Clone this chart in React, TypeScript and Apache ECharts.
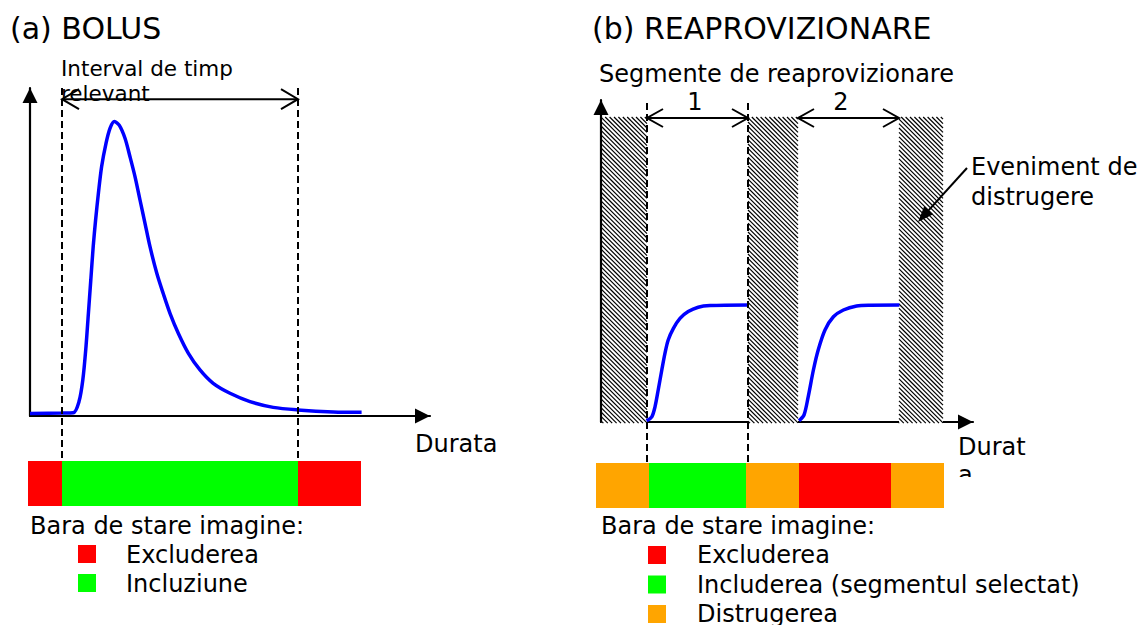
import React, { useEffect, useRef } from "react";
import * as echarts from "echarts";

const FONT = '"DejaVu Sans", Verdana, sans-serif';
const BLUE = "#0000FF";
const STATE_COLOR: Record<string, string> = { excl: "#FF0000", incl: "#00FF00", destr: "#FFA500" };

// ---------- Panel (a) BOLUS ----------
const bolusTime = [0, 8, 10.8, 12.25, 13.2, 14, 14.6, 15.2, 15.8, 16.4, 17.1, 17.9, 19, 20, 21.1, 22.3, 23.75, 25, 26.25, 27.5, 28.75, 30, 31.7, 33.3, 35, 37.1, 39.6, 42.5, 45.8, 50, 55, 60.8, 66.9, 75.8, 82.9];
const bolusValue = [0.8, 0.9, 1.0, 4.5, 11.25, 21.7, 32.1, 42.5, 52.9, 61.25, 69.6, 77.9, 85.2, 89.9, 92, 90.9, 86.8, 81, 74.8, 67.5, 60.2, 52.9, 44.6, 38.3, 32.1, 25.8, 19.6, 14.4, 10.2, 7.1, 4.5, 2.7, 1.9, 1.25, 1.15];
const intervalBounds = [8, 67];
const intervalLevel = 99;
const statusAStart = [-0.5, 8, 67];
const statusAEnd = [8, 67, 82.75];
const statusAState = ["excl", "incl", "excl"];
const legendALabels = ["Excluderea", "Incluziune"];
const legendAStates = ["excl", "incl"];

// ---------- Panel (b) REAPROVIZIONARE ----------
const hatchStart = [0, 36.75, 74.5];
const hatchEnd = [11.5, 49.25, 85.5];
const hatchTop = 76.25;
const seg1Time = [11.4, 12.7, 13.5, 14.3, 15.2, 16, 16.8, 18.1, 19.75, 21.8, 24.3, 27.25, 36.7];
const seg1Value = [0.3, 1.3, 3.8, 8, 13, 17.2, 20.5, 23.4, 25.9, 27.6, 28.7, 29.1, 29.25];
const seg2Time = [49.5, 50.75, 51.8, 53.1, 54.3, 56, 58.1, 60.6, 63.9, 67.25, 74.6];
const seg2Value = [0.3, 1.75, 6.3, 13, 18, 23, 26.3, 28, 29, 29.2, 29.25];
const segmentStart = [11.5, 49.25];
const segmentEnd = [36.75, 74.5];
const segmentLabels = ["1", "2"];
const segmentLabelX = [23.5, 60];
const segmentArrowLevel = 76;
const segmentLabelLevel = 80;
const selectedBounds = [11.5, 36.75];
const statusBStart = [-1.25, 12, 36.25, 49.5, 72.5];
const statusBEnd = [12, 36.25, 49.5, 72.5, 85.75];
const statusBState = ["destr", "incl", "destr", "excl", "destr"];
const legendBLabels = ["Excluderea", "Includerea (segmentul selectat)", "Distrugerea"];
const legendBStates = ["excl", "incl", "destr"];

const A_X_MAX = 100, A_Y_MAX = 102.5;
const B_X_MAX = 93, B_Y_MAX = 80.5;
const A_BAR_TOP = 461, B_BAR_TOP = 463;
const BODY = 24;
const TITLE = 30;

function axisPair(max: number, yMax: number, yZ = 0) {
  const line = {
    show: true,
    lineStyle: { color: "#000", width: 2.2 },
    symbol: ["none", "triangle"],
    symbolSize: [15, 15],
    symbolOffset: [0, -7.5],
  };
  return {
    x: { type: "value", min: 0, max, axisLine: line, axisTick: { show: false }, axisLabel: { show: false }, splitLine: { show: false } },
    y: { type: "value", min: 0, max: yMax, z: yZ, axisLine: line, axisTick: { show: false }, axisLabel: { show: false }, splitLine: { show: false } },
  };
}

function hiddenAxes(max: number) {
  return {
    x: { type: "value", min: 0, max, show: false },
    y: { type: "value", min: 0, max: 1, show: false },
  };
}

function statusRender(states: string[]) {
  return (params: any, api: any) => {
    const p0 = api.coord([api.value(0), 1]);
    const p1 = api.coord([api.value(1), 0]);
    return {
      type: "rect",
      shape: { x: p0[0], y: p0[1], width: p1[0] - p0[0], height: p1[1] - p0[1] },
      style: { fill: STATE_COLOR[states[params.dataIndex]] },
    };
  };
}

function dashedRender(yMax: number, bottomPx: number, topExtra = 0) {
  return (_params: any, api: any) => {
    const p = api.coord([api.value(0), yMax]);
    return {
      type: "line",
      shape: { x1: p[0], y1: p[1] + topExtra, x2: p[0], y2: bottomPx },
      style: { stroke: "#000", lineWidth: 2, lineDash: [7, 4] },
    };
  };
}

function doubleArrow(x0: number, x1: number, y: number, dx: number, dy: number) {
  const st = { stroke: "#000", lineWidth: 2, fill: null };
  return [
    { type: "line", shape: { x1: x0, y1: y, x2: x1, y2: y }, style: st },
    { type: "polyline", shape: { points: [[x0 + dx, y - dy], [x0, y], [x0 + dx, y + dy]] }, style: st },
    { type: "polyline", shape: { points: [[x1 - dx, y - dy], [x1, y], [x1 - dx, y + dy]] }, style: st },
  ];
}

function txt(text: string, x: number, y: number, size: number, align = "left") {
  return {
    type: "text",
    x,
    y,
    z: 20,
    style: {
      text,
      font: `${size}px ${FONT}`,
      fill: "#000",
      align,
      textAlign: align,
      verticalAlign: "middle",
      textVerticalAlign: "middle",
    },
  };
}

export default function App() {
  const ref = useRef<HTMLDivElement>(null);
  useEffect(() => {
    if (!ref.current) return;
    const chart = echarts.init(ref.current, null, { renderer: "svg" });
    const a = axisPair(A_X_MAX, A_Y_MAX);
    const b = axisPair(B_X_MAX, B_Y_MAX, 5);
    const aBar = hiddenAxes(A_X_MAX);
    const bBar = hiddenAxes(B_X_MAX);

    const graphic: any[] = [
      txt("(a) BOLUS", 10, 28.5, TITLE),
      txt("(b) REAPROVIZIONARE", 592, 28.5, TITLE),
      txt("Interval de timp", 61, 68.5, 21.5),
      txt("relevant", 61, 93, 21.5),
      txt("Durata", 415, 443.5, BODY),
      txt("Segmente de reaprovizionare", 599, 74, BODY),
      txt("Eveniment de", 971, 167, BODY),
      txt("distrugere", 971, 196.5, BODY),
      txt("Durat", 958, 446.5, BODY),
      txt("a", 958, 474.5, BODY),
      { type: "rect", z: 100, shape: { x: 952, y: 477, width: 40, height: 24 }, style: { fill: "#fff" } },
      { type: "line", z: 50, shape: { x1: 967, y1: 168, x2: 928.75, y2: 210.14 }, style: { stroke: "#000", lineWidth: 2 } },
      { type: "polygon", z: 50, shape: { points: [[918, 222], [933.2, 214.2], [924.3, 206.1]] }, style: { fill: "#000" } },
      txt("Bara de stare imagine:", 30, 525.5, BODY),
      txt("Bara de stare imagine:", 601, 525.5, BODY),
    ];
    legendALabels.forEach((lab, i) => {
      const top = 545 + i * 29;
      graphic.push({ type: "rect", shape: { x: 78, y: top, width: 18, height: 18 }, style: { fill: STATE_COLOR[legendAStates[i]] } });
      graphic.push(txt(lab, 126, top + 9.5, BODY));
    });
    legendBLabels.forEach((lab, i) => {
      const top = 546 + i * 29.5;
      graphic.push({ type: "rect", shape: { x: 648, y: top, width: 18, height: 18 }, style: { fill: STATE_COLOR[legendBStates[i]] } });
      graphic.push(txt(lab, 697, top + 9, BODY));
    });

    const option: any = {
      animation: false,
      backgroundColor: "#fff",
      grid: [
        { left: 30, top: 88, width: 400, height: 328, containLabel: false, outerBoundsMode: "none" },
        { left: 30, top: A_BAR_TOP, width: 400, height: 45, containLabel: false, outerBoundsMode: "none" },
        { left: 601, top: 100, width: 372, height: 322, containLabel: false, outerBoundsMode: "none" },
        { left: 601, top: B_BAR_TOP, width: 372, height: 45, containLabel: false, outerBoundsMode: "none" },
      ],
      xAxis: [
        { ...a.x, gridIndex: 0 },
        { ...aBar.x, gridIndex: 1 },
        { ...b.x, gridIndex: 2 },
        { ...bBar.x, gridIndex: 3 },
      ],
      yAxis: [
        { ...a.y, gridIndex: 0 },
        { ...aBar.y, gridIndex: 1 },
        { ...b.y, gridIndex: 2 },
        { ...bBar.y, gridIndex: 3 },
      ],
      graphic,
      series: [
        {
          type: "line",
          name: "bolus",
          xAxisIndex: 0,
          yAxisIndex: 0,
          data: bolusTime.map((t, i) => [t, bolusValue[i]]),
          smooth: 0.3,
          showSymbol: false,
          lineStyle: { color: BLUE, width: 3.5 },
          silent: true,
        },
        {
          type: "custom",
          name: "intervalLines",
          xAxisIndex: 0,
          yAxisIndex: 0,
          z: 4,
          silent: true,
          data: intervalBounds.map((x) => [x, A_Y_MAX]),
          renderItem: dashedRender(A_Y_MAX, A_BAR_TOP),
        },
        {
          type: "custom",
          name: "intervalArrow",
          xAxisIndex: 0,
          yAxisIndex: 0,
          z: 4,
          silent: true,
          data: [[intervalBounds[0], intervalBounds[1], intervalLevel]],
          renderItem: (_p: any, api: any) => {
            const p0 = api.coord([api.value(0), api.value(2)]);
            const p1 = api.coord([api.value(1), api.value(2)]);
            return { type: "group", children: doubleArrow(p0[0], p1[0], p0[1], 17, 10) };
          },
        },
        {
          type: "custom",
          name: "statusA",
          xAxisIndex: 1,
          yAxisIndex: 1,
          silent: true,
          data: statusAStart.map((s, i) => [s, statusAEnd[i]]),
          renderItem: statusRender(statusAState),
        },
        {
          type: "custom",
          name: "hatch",
          xAxisIndex: 2,
          yAxisIndex: 2,
          z: 3,
          silent: true,
          data: hatchStart.map((s, i) => [s, hatchEnd[i], hatchTop]),
          renderItem: (_p: any, api: any) => {
            const tl = api.coord([api.value(0), api.value(2)]);
            const br = api.coord([api.value(1), -0.3]);
            const L = tl[0], T = tl[1], R = br[0], B = br[1];
            const children: any[] = [
              { type: "rect", shape: { x: L, y: T, width: R - L, height: B - T }, style: { fill: "#fff" } },
            ];
            const step = 4.4;
            for (let c = T - R + step / 2; c < B - L; c += step) {
              const xa = Math.max(L, T - c);
              const xb = Math.min(R, B - c);
              if (xb > xa) {
                children.push({
                  type: "line",
                  shape: { x1: xa, y1: xa + c, x2: xb, y2: xb + c },
                  style: { stroke: "#000", lineWidth: 1.2 },
                });
              }
            }
            return { type: "group", children };
          },
        },
        {
          type: "line",
          name: "segment1",
          xAxisIndex: 2,
          yAxisIndex: 2,
          data: seg1Time.map((t, i) => [t, seg1Value[i]]),
          smooth: 0.3,
          showSymbol: false,
          lineStyle: { color: BLUE, width: 3.5 },
          silent: true,
        },
        {
          type: "line",
          name: "segment2",
          xAxisIndex: 2,
          yAxisIndex: 2,
          data: seg2Time.map((t, i) => [t, seg2Value[i]]),
          smooth: 0.3,
          showSymbol: false,
          lineStyle: { color: BLUE, width: 3.5 },
          silent: true,
        },
        {
          type: "custom",
          name: "selectedLines",
          xAxisIndex: 2,
          yAxisIndex: 2,
          z: 6,
          silent: true,
          data: selectedBounds.map((x) => [x, B_Y_MAX]),
          renderItem: dashedRender(B_Y_MAX, B_BAR_TOP, 3),
        },
        {
          type: "custom",
          name: "segmentArrows",
          xAxisIndex: 2,
          yAxisIndex: 2,
          z: 6,
          silent: true,
          data: segmentStart.map((s, i) => [s, segmentEnd[i], segmentArrowLevel, segmentLabelX[i], segmentLabelLevel]),
          renderItem: (params: any, api: any) => {
            const p0 = api.coord([api.value(0), api.value(2)]);
            const p1 = api.coord([api.value(1), api.value(2)]);
            const pl = api.coord([api.value(3), api.value(4)]);
            return {
              type: "group",
              children: [
                ...doubleArrow(p0[0], p1[0], p0[1], 16, 9),
                {
                  type: "text",
                  x: pl[0],
                  y: pl[1],
                  style: {
                    text: segmentLabels[params.dataIndex],
                    font: `${BODY}px ${FONT}`,
                    fill: "#000",
                    align: "center",
                    textAlign: "center",
                    verticalAlign: "middle",
                    textVerticalAlign: "middle",
                  },
                },
              ],
            };
          },
        },
        {
          type: "custom",
          name: "statusB",
          xAxisIndex: 3,
          yAxisIndex: 3,
          silent: true,
          data: statusBStart.map((s, i) => [s, statusBEnd[i]]),
          renderItem: statusRender(statusBState),
        },
      ],
    };
    chart.setOption(option);
    return () => chart.dispose();
  }, []);
  return (
    <div
      ref={ref}
      style={{ position: "fixed", left: 0, top: 0, width: 1139, height: 625, background: "#fff" }}
    />
  );
}
